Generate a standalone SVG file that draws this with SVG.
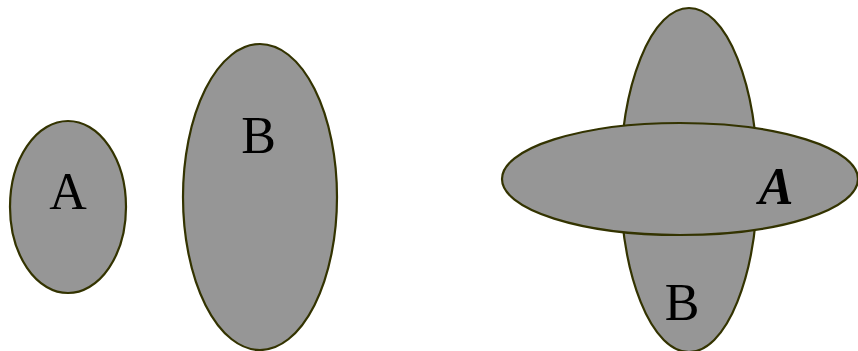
<svg xmlns="http://www.w3.org/2000/svg" width="858" height="351" viewBox="0 0 858 351">
<style>
.e{fill:#969696;stroke:#333300;stroke-width:2.2}
.t{font-family:"Liberation Serif","Times New Roman",serif;font-size:52px;fill:#000;text-anchor:middle}
</style>
<rect width="858" height="351" fill="#fff"/>
<g id="A1"><ellipse class="e" cx="68" cy="207" rx="58" ry="86"/><text class="t" x="68" y="209">A</text></g>
<g id="B1"><ellipse class="e" cx="260" cy="197" rx="77" ry="153"/><text class="t" x="258.5" y="153">B</text></g>
<g id="B2"><ellipse class="e" cx="689" cy="180" rx="68.5" ry="172"/><text class="t" x="682" y="320">B</text></g>
<g id="A2"><ellipse class="e" cx="680" cy="179" rx="178" ry="56"/><text class="t" x="776" y="204" style="font-style:italic;font-weight:bold">A</text></g>
<g id="connectors"/>
</svg>
